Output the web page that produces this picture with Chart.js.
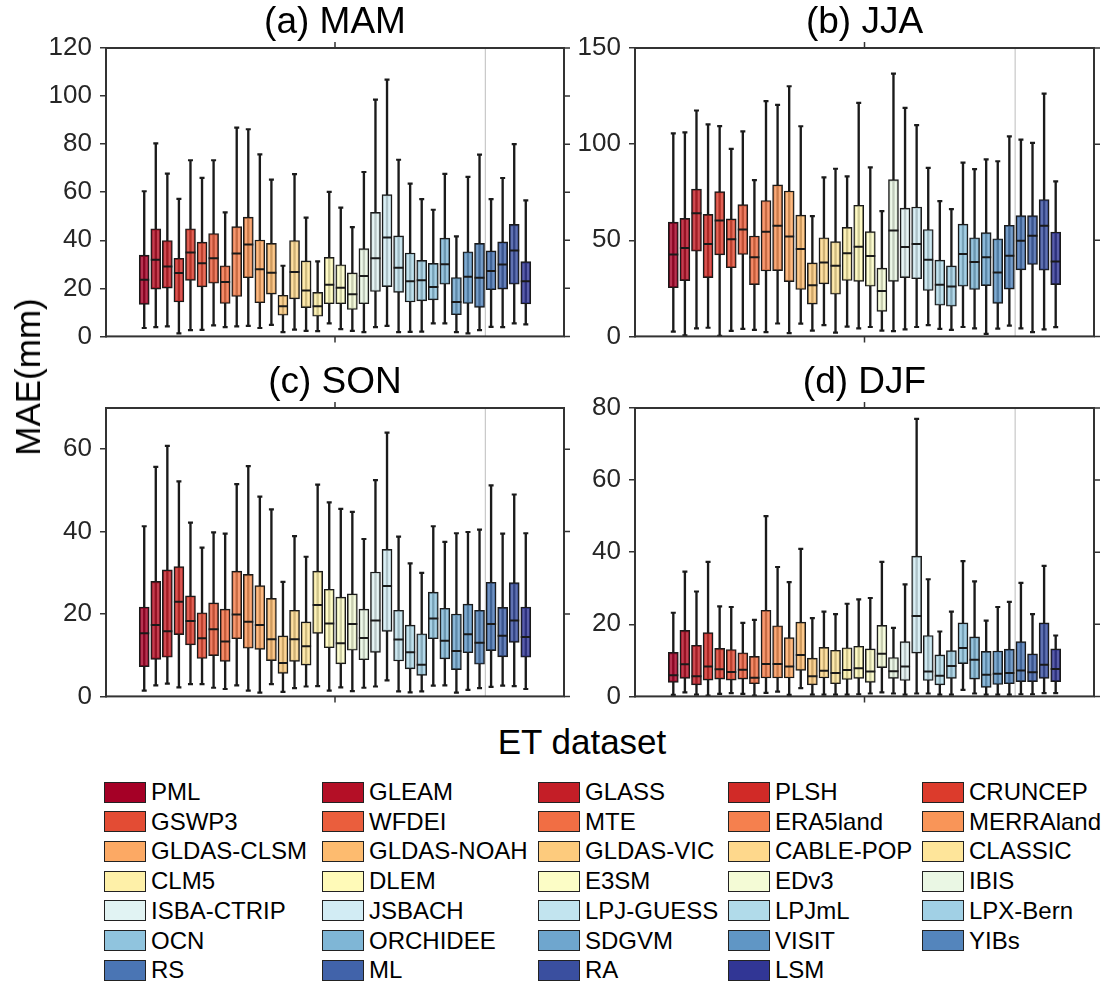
<!DOCTYPE html>
<html>
<head>
<meta charset="utf-8">
<script src="https://cdn.jsdelivr.net/npm/chart.js@4.4.0/dist/chart.umd.min.js"></script>
<style>
    body { margin: 0; background: #fff; font-family: "Liberation Sans", Arial, sans-serif; }
    #wrap { position: relative; width: 1108px; height: 983px; overflow: hidden; }
    canvas { position: absolute; }
    .lab { position: absolute; font-size: 35px; color: #000; white-space: nowrap; }
    #ylab { left: 28px; top: 377px; transform: translate(-50%, -50%) rotate(-90deg); }
    #xlab { left: 582px; top: 742px; transform: translate(-50%, -50%); }
    .item { position: absolute; display: flex; align-items: center; height: 22px; font-size: 24px; color: #000; white-space: nowrap; }
    .sw { display: inline-block; width: 40px; height: 19px; border: 1.5px solid #222; margin-right: 5px; }
</style>
</head>
<body>
<div id="wrap">
    <canvas id="mam" width="540" height="360" style="left:40px;top:0"></canvas>
    <canvas id="jja" width="533" height="360" style="left:575px;top:0"></canvas>
    <canvas id="son" width="540" height="360" style="left:40px;top:360px"></canvas>
    <canvas id="djf" width="533" height="360" style="left:575px;top:360px"></canvas>
    <div class="lab" id="ylab">MAE(mm)</div>
    <div class="lab" id="xlab">ET dataset</div>
    <div id="legend"></div>
</div>
<script>
const names = ['PML', 'GLEAM', 'GLASS', 'PLSH', 'CRUNCEP', 'GSWP3', 'WFDEI', 'MTE', 'ERA5land', 'MERRAland',
    'GLDAS-CLSM', 'GLDAS-NOAH', 'GLDAS-VIC', 'CABLE-POP', 'CLASSIC', 'CLM5', 'DLEM', 'E3SM', 'EDv3', 'IBIS',
    'ISBA-CTRIP', 'JSBACH', 'LPJ-GUESS', 'LPJmL', 'LPX-Bern', 'OCN', 'ORCHIDEE', 'SDGVM', 'VISIT', 'YIBs',
    'RS', 'ML', 'RA', 'LSM'];

// MAM
const mamMax = [60.4, 80.3, 67.7, 57.2, 73.3, 66.0, 73.3, 51.6, 86.9, 86.2, 75.7, 65.2, 29.4, 67.5, 49.4, 31.2, 60.1, 53.6, 45.5, 68.4, 98.5, 106.8, 73.5, 63.6, 57.1, 52.7, 67.6, 41.6, 66.4, 75.6, 57.1, 65.9, 80.0, 56.6];
const mamQ3  = [33.8, 44.8, 39.9, 32.5, 44.8, 39.2, 42.8, 29.4, 45.7, 49.6, 40.1, 38.7, 17.1, 39.9, 31.4, 18.3, 32.9, 29.8, 26.4, 36.5, 51.6, 59.0, 41.8, 34.7, 31.6, 30.4, 40.9, 24.5, 35.2, 38.7, 35.6, 39.3, 46.6, 31.1];
const mamMed = [23.6, 31.9, 29.1, 26.4, 34.9, 30.4, 32.5, 22.6, 34.5, 38.2, 27.9, 26.5, 12.5, 26.8, 19.1, 12.5, 21.5, 20.2, 17.5, 25.1, 32.5, 41.2, 28.6, 22.9, 23.4, 20.6, 30.0, 14.3, 24.8, 24.4, 27.2, 29.9, 35.7, 22.9];
const mamQ1  = [13.3, 19.7, 20.1, 14.3, 23.3, 20.6, 22.1, 13.7, 16.6, 24.4, 14.0, 17.6, 8.8, 15.6, 12.0, 8.4, 13.6, 13.6, 11.2, 13.6, 18.7, 20.7, 18.3, 14.3, 14.8, 15.2, 21.7, 9.0, 13.7, 12.1, 19.4, 19.7, 21.7, 13.5];
const mamMin = [3.5, 3.9, 4.2, 1.3, 2.6, 2.7, 4.6, 3.9, 4.2, 4.4, 3.5, 4.8, 1.8, 2.8, 2.3, 2.2, 5.4, 3.0, 2.3, 1.8, 3.9, 4.4, 1.8, 1.9, 2.0, 5.4, 5.4, 1.8, 1.3, 2.6, 4.0, 3.9, 5.4, 5.0];

// JJA
const jjaMax = [105.6, 106.1, 117.5, 110.3, 109.4, 97.5, 106.6, 81.3, 122.4, 120.4, 130.1, 109.3, 62.6, 82.7, 87.2, 83.2, 121.5, 87.9, 65.2, 136.7, 118.9, 109.9, 87.7, 70.4, 66.2, 90.4, 87.0, 92.1, 91.1, 104.0, 102.3, 100.7, 126.3, 80.6];
const jjaQ3  = [59.4, 61.4, 76.6, 63.5, 75.3, 61.1, 68.5, 52.2, 70.7, 78.8, 75.6, 63.1, 38.2, 51.3, 49.3, 56.7, 68.2, 54.5, 35.5, 81.5, 66.7, 67.3, 55.6, 39.7, 36.7, 58.4, 51.3, 54.0, 50.8, 57.8, 62.8, 62.8, 71.2, 54.3];
const jjaMed = [42.6, 46.0, 64.0, 48.0, 60.3, 50.5, 55.6, 41.2, 54.4, 57.6, 51.9, 45.5, 26.6, 38.4, 36.7, 43.3, 46.6, 41.8, 23.6, 55.1, 46.5, 48.0, 39.9, 26.9, 25.9, 42.9, 38.7, 41.2, 33.3, 42.0, 49.7, 52.3, 57.6, 39.0];
const jjaQ1  = [25.3, 29.0, 44.3, 30.6, 42.4, 35.7, 42.6, 26.9, 34.0, 34.2, 28.5, 24.4, 16.8, 27.3, 21.9, 29.1, 28.6, 26.1, 13.0, 28.6, 30.6, 30.0, 23.9, 16.2, 15.7, 26.1, 24.4, 26.4, 17.2, 24.6, 34.6, 37.4, 34.4, 26.9];
const jjaMin = [2.5, 0.5, 4.2, 4.5, 0.3, 2.9, 3.9, 3.4, 2.2, 6.7, 1.7, 6.6, 3.0, 5.9, 2.0, 5.1, 4.2, 4.9, 3.0, 2.7, 3.7, 4.9, 5.9, 3.9, 3.4, 4.9, 4.2, 1.3, 4.0, 5.6, 4.2, 2.2, 3.7, 4.8];

// SON
const sonMax = [41.3, 55.7, 60.8, 52.2, 42.2, 36.1, 39.8, 39.5, 51.5, 55.9, 48.5, 45.4, 27.8, 38.9, 33.9, 51.4, 47.1, 45.5, 44.8, 38.2, 52.5, 64.0, 38.8, 32.3, 30.0, 41.3, 37.5, 39.6, 39.9, 40.5, 51.2, 39.5, 49.0, 39.6];
const sonQ3  = [21.7, 27.9, 30.7, 31.5, 24.4, 20.3, 22.7, 21.2, 30.4, 29.6, 26.9, 23.8, 14.7, 20.9, 18.1, 30.4, 26.0, 24.1, 24.9, 21.2, 30.2, 35.7, 20.9, 17.3, 15.2, 25.3, 21.4, 20.0, 22.4, 20.9, 27.7, 21.6, 27.6, 21.7];
const sonMed = [15.3, 17.3, 15.8, 23.0, 18.3, 14.1, 16.3, 13.3, 19.9, 18.1, 17.3, 13.9, 8.1, 13.9, 12.2, 22.2, 17.7, 12.9, 17.6, 14.2, 18.4, 26.8, 13.8, 10.7, 7.7, 18.9, 13.5, 11.0, 15.1, 13.0, 17.6, 14.7, 18.4, 14.4];
const sonQ1  = [7.2, 9.0, 9.5, 15.0, 12.5, 9.2, 9.9, 8.5, 14.0, 11.7, 11.4, 8.7, 5.6, 8.5, 7.6, 15.3, 11.8, 7.9, 11.2, 8.9, 10.7, 15.8, 8.6, 6.7, 5.1, 14.0, 9.1, 6.5, 10.6, 7.8, 11.1, 9.6, 13.1, 9.5];
const sonMin = [1.4, 2.7, 3.1, 2.2, 3.0, 3.0, 2.1, 1.8, 2.7, 1.4, 0.9, 3.0, 1.1, 2.0, 2.4, 2.5, 1.4, 2.2, 1.3, 2.1, 2.4, 3.9, 1.2, 1.0, 1.2, 2.6, 2.7, 0.9, 1.6, 2.0, 2.3, 2.6, 2.5, 1.8];

// DJF
const djfMax = [23.2, 34.6, 29.1, 37.3, 25.0, 24.8, 20.4, 21.2, 50.0, 35.9, 31.7, 40.9, 21.7, 23.5, 22.8, 25.7, 26.9, 27.3, 37.3, 19.0, 31.1, 77.0, 32.5, 18.0, 23.5, 37.5, 31.9, 21.0, 24.8, 26.2, 31.5, 22.8, 36.2, 16.9];
const djfQ3  = [12.2, 18.3, 14.2, 17.7, 13.3, 13.0, 12.1, 11.1, 23.9, 19.6, 16.3, 20.6, 10.6, 13.6, 12.8, 13.5, 13.9, 13.2, 19.7, 10.8, 15.2, 38.9, 16.9, 11.5, 12.7, 20.4, 16.5, 12.5, 12.6, 13.1, 15.2, 11.8, 20.4, 13.2];
const djfMed = [5.9, 8.9, 5.6, 8.3, 7.5, 6.8, 7.4, 5.2, 9.0, 9.0, 8.3, 11.5, 5.6, 7.1, 6.5, 7.3, 7.8, 6.9, 11.8, 7.0, 8.3, 22.3, 6.9, 5.7, 8.4, 13.4, 10.2, 6.0, 6.3, 6.5, 7.2, 6.7, 8.8, 7.6];
const djfQ1  = [3.9, 5.0, 3.2, 4.5, 4.8, 4.5, 4.8, 3.5, 5.1, 5.1, 5.1, 7.2, 3.2, 5.1, 3.5, 4.7, 5.0, 3.9, 8.0, 5.0, 4.4, 12.0, 4.4, 3.2, 5.0, 9.1, 4.8, 2.5, 3.3, 3.5, 4.1, 4.1, 5.0, 4.1];
const djfMin = [0.4, 1.1, 0.5, 0.2, 0.7, 0.9, 0.7, 0.2, 1.0, 1.3, 0.4, 2.3, 0.5, 0.5, 0.5, 0.5, 0.6, 0.8, 1.1, 0.8, 0.5, 0.8, 0.8, 0.5, 0.5, 1.8, 0.8, 0.5, 0.5, 0.5, 0.6, 0.6, 0.9, 0.9];

const colors = ['#a50026', '#b40f26', '#c41e27', '#d12a27', '#dc3b2c', '#e34c34', '#ea5e3d', '#f16e44', '#f5804e', '#f99558',
    '#fca964', '#fdbb6f', '#fdcb7d', '#fed88c', '#fee59a', '#fef0a8', '#fffab8', '#fcfdc6', '#f4fbd6', '#eaf7e4',
    '#e1f3f3', '#d2ecf4', '#c2e4ef', '#b1dbea', '#a1d0e5', '#90c4de', '#7fb6d6', '#6fa6ce', '#6096c5', '#5485bc',
    '#4a75b4', '#4163aa', '#3a4f9f', '#313695'];

const FONT = '"Liberation Sans", Arial, sans-serif';
const INK = '#1a1a1a';

function withAlpha(hex, a) {
    const n = parseInt(hex.slice(1), 16);
    return `rgba(${n >> 16}, ${(n >> 8) & 255}, ${n & 255}, ${a})`;
}

// frame, right / top ticks and the grey line between single datasets and ensembles
const framePlugin = {
    id: 'frame',
    beforeDatasetsDraw(chart) {
        const { ctx, chartArea: a, scales: { x } } = chart;
        const sx = (x.getPixelForValue(30) + x.getPixelForValue(31)) / 2;
        ctx.save();
        ctx.strokeStyle = '#bdbdbd';
        ctx.lineWidth = 1;
        ctx.beginPath();
        ctx.moveTo(sx, a.top);
        ctx.lineTo(sx, a.bottom);
        ctx.stroke();
        ctx.restore();
    },
    afterDraw(chart) {
        const { ctx, chartArea: a, scales: { y } } = chart;
        ctx.save();
        ctx.strokeStyle = '#333';
        ctx.lineWidth = 2;
        ctx.strokeRect(a.left, a.top, a.right - a.left, a.bottom - a.top);
        ctx.lineWidth = 1.5;
        ctx.beginPath();
        y.ticks.forEach(t => {
            const py = y.getPixelForValue(t.value);
            ctx.moveTo(a.right, py);
            ctx.lineTo(a.right + 6, py);
        });
        const mx = (a.left + a.right) / 2;
        ctx.moveTo(mx, a.top);
        ctx.lineTo(mx, a.top - 6);
        ctx.moveTo(mx, a.bottom);
        ctx.lineTo(mx, a.bottom + 6);
        ctx.stroke();
        ctx.restore();
    }
};

function makePanel(id, title, mins, q1s, meds, q3s, maxs, yMax, yStep, axisWidth, padRight) {
    const pts = arr => arr.map((v, i) => ({ x: i + 1, y: v }));
    new Chart(document.getElementById(id), {
        type: 'bar',
        data: {
            datasets: [{
                label: 'whisker',
                data: names.map((n, i) => ({ x: i + 1, y: [mins[i], maxs[i]] })),
                backgroundColor: INK,
                barThickness: 1.7,
                grouped: false,
                order: 4
            }, {
                label: 'box',
                data: names.map((n, i) => ({ x: i + 1, y: [q1s[i], q3s[i]] })),
                backgroundColor: colors.map(c => withAlpha(c, 0.8)),
                borderColor: INK,
                borderWidth: 1.4,
                borderSkipped: false,
                barThickness: 10,
                grouped: false,
                order: 3
            }, {
                type: 'line',
                label: 'caps',
                data: pts(mins).concat(pts(maxs)),
                showLine: false,
                pointStyle: 'line',
                pointRadius: 2.5,
                pointBorderWidth: 2.2,
                borderColor: INK,
                pointBorderColor: INK,
                order: 2
            }, {
                type: 'line',
                label: 'median',
                data: pts(meds),
                showLine: false,
                pointStyle: 'line',
                pointRadius: 5,
                pointBorderWidth: 2,
                borderColor: INK,
                pointBorderColor: INK,
                order: 1
            }]
        },
        options: {
            responsive: false,
            animation: false,
            layout: { padding: { left: 0, right: padRight, top: 0, bottom: 14.5 } },
            plugins: {
                legend: { display: false },
                tooltip: { enabled: false },
                title: {
                    display: true,
                    text: title,
                    fullSize: false,
                    color: '#000',
                    font: { family: FONT, size: 37, weight: 'normal' },
                    padding: { top: 1, bottom: 2.6 }
                }
            },
            scales: {
                x: { type: 'linear', min: 0.17, max: 34.83, display: false },
                y: {
                    min: 0,
                    max: yMax,
                    ticks: { stepSize: yStep, color: '#262626', padding: 8, font: { family: FONT, size: 26 } },
                    grid: { drawOnChartArea: false, tickLength: 6, color: '#333', lineWidth: 1.5 },
                    border: { color: '#333', width: 2 },
                    afterBuildTicks(s) { s.ticks = s.ticks.filter(t => t.value % yStep === 0); },
                    afterFit(s) { s.width = axisWidth; }
                }
            }
        },
        plugins: [framePlugin]
    });
}

makePanel('mam', '(a) MAM', mamMin, mamQ1, mamMed, mamQ3, mamMax, 120, 20, 66, 16);
makePanel('jja', '(b) JJA', jjaMin, jjaQ1, jjaMed, jjaQ3, jjaMax, 150, 50, 60, 14);
makePanel('son', '(c) SON', sonMin, sonQ1, sonMed, sonQ3, sonMax, 70, 20, 66, 16);
makePanel('djf', '(d) DJF', djfMin, djfQ1, djfMed, djfQ3, djfMax, 80, 20, 60, 14);

// legend, 5 columns filled row by row
const colX = [104, 322, 538, 728, 922];
const legend = document.getElementById('legend');
names.forEach((n, i) => {
    const item = document.createElement('div');
    item.className = 'item';
    item.style.left = colX[i % 5] + 'px';
    item.style.top = (781 + Math.floor(i / 5) * 29.7) + 'px';
    item.innerHTML = `<span class="sw" style="background:${colors[i]}"></span>${n}`;
    legend.appendChild(item);
});
</script>
</body>
</html>
